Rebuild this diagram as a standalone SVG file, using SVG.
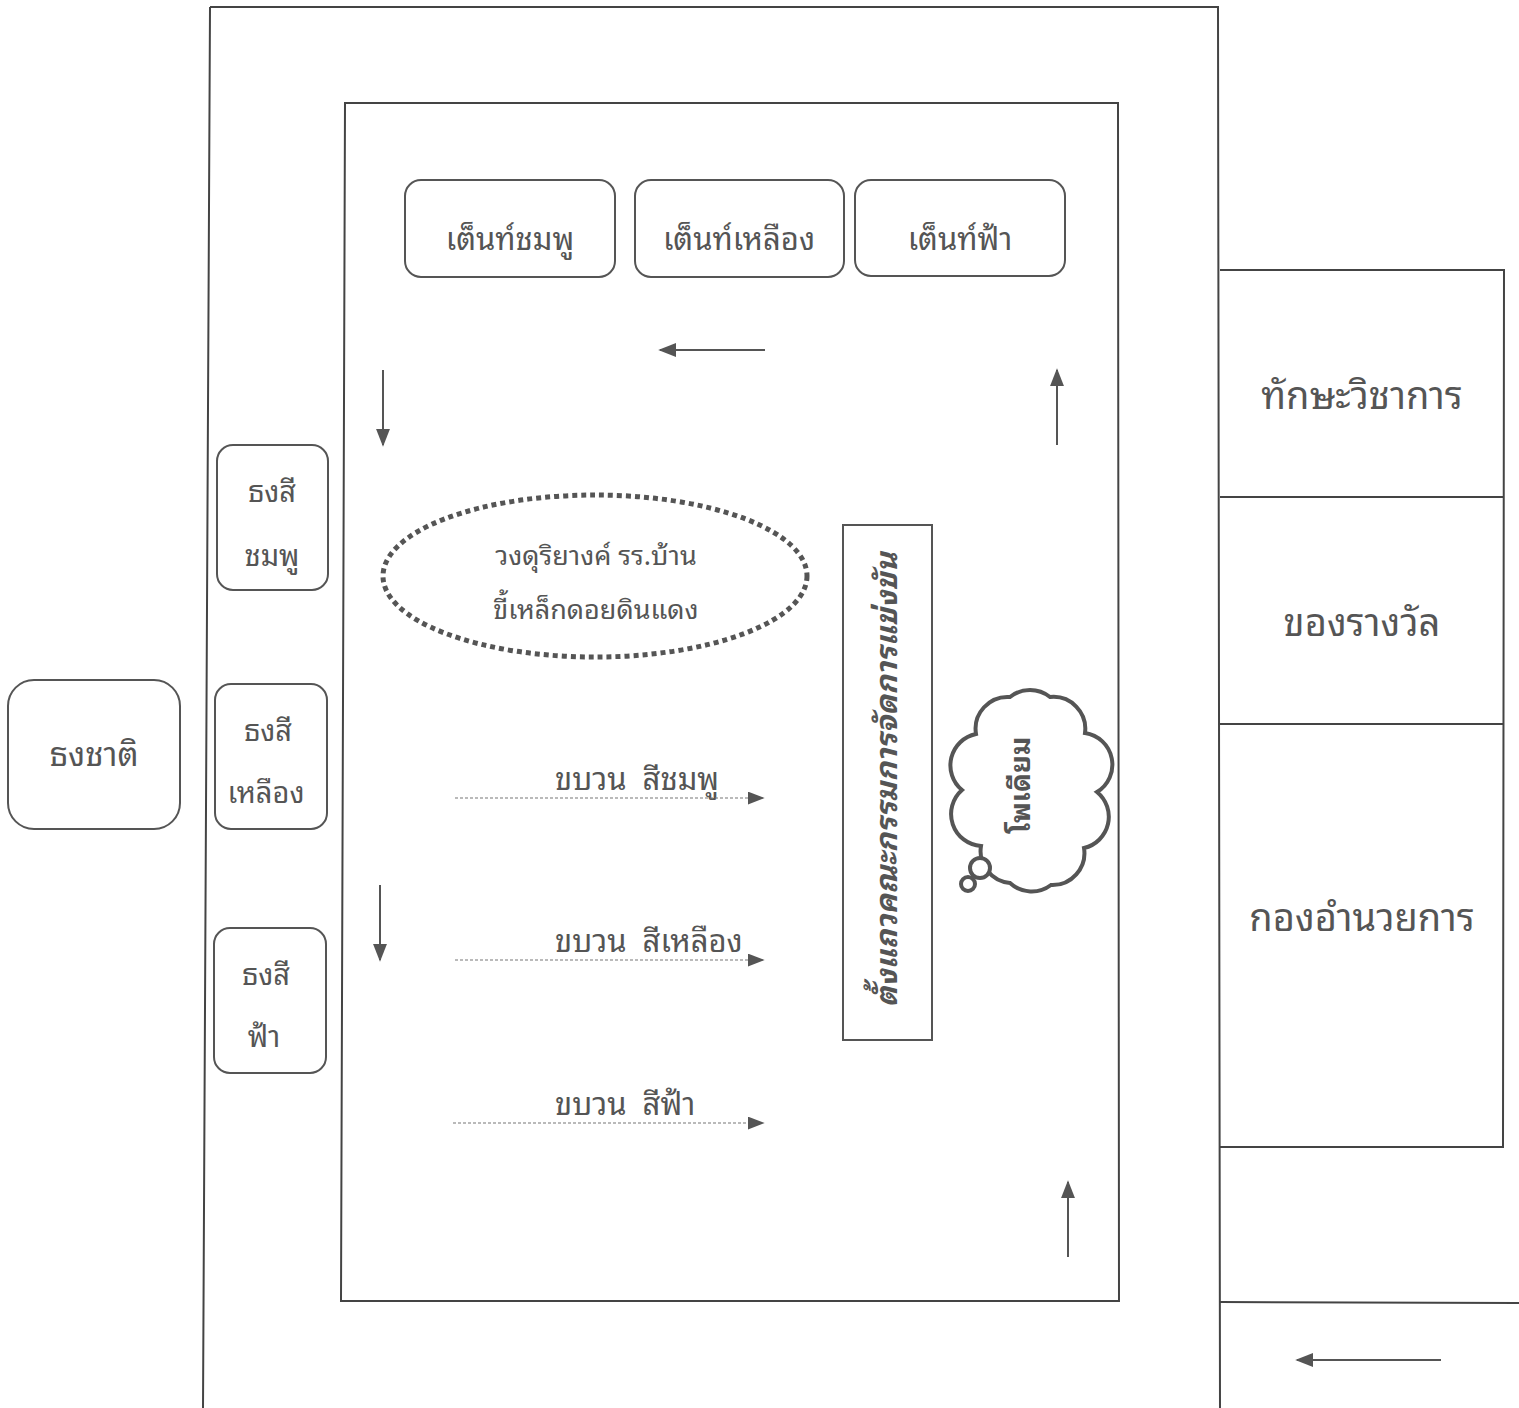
<svg xmlns="http://www.w3.org/2000/svg" width="1519" height="1408" viewBox="0 0 1519 1408">
<style>
.frame{fill:none;stroke:#444;stroke-width:2}
.box{fill:#fff;stroke:#555;stroke-width:2}
.t{font-family:"Noto Sans Thai Looped","Loma","Garuda","Tlwg Typo","Noto Sans Thai","Noto Sans","DejaVu Sans",sans-serif;fill:#555;text-anchor:middle}
.ts{text-anchor:start}
.arr{stroke:#555;stroke-width:2;fill:none}
.dash{stroke:#777;stroke-width:1.2;stroke-dasharray:3 2;fill:none}
</style>
<defs>
<marker id="ahs" viewBox="0 0 10 10" refX="9" refY="5" markerWidth="18" markerHeight="14" markerUnits="userSpaceOnUse" orient="auto" preserveAspectRatio="none">
<path d="M0,0 L10,5 L0,10 Z" fill="#555"/>
</marker>
<marker id="ahd" viewBox="0 0 10 10" refX="9" refY="5" markerWidth="17" markerHeight="13" markerUnits="userSpaceOnUse" orient="auto" preserveAspectRatio="none">
<path d="M0,0 L10,5 L0,10 Z" fill="#555"/>
</marker>
</defs>
<rect width="1519" height="1408" fill="#fff"/>
<g id="outer-frame">
<path class="frame" d="M210,7 L1218,7 L1220,1408 M210,7 L203,1408"/>
</g>
<g id="inner-frame">
<path class="frame" d="M345,103 L1118,103 L1119,1301 L341,1301 Z"/>
</g>
<g id="right-column">
<path class="frame" d="M1220,270 L1504,270 L1503,1147 L1220,1147 M1220,497 L1504,497 M1220,724 L1504,724 M1220,1302 L1519,1303"/>
<text class="t" x="1362" y="409" font-size="38">ทักษะวิชาการ</text>
<text class="t" x="1362" y="636" font-size="38">ของรางวัล</text>
<text class="t" x="1362" y="931" font-size="38">กองอำนวยการ</text>
</g>
<g id="tent-pink">
<rect class="box" x="405" y="180" width="210" height="97" rx="16"/>
<text class="t" x="510" y="250" font-size="31">เต็นท์ชมพู</text>
</g>
<g id="tent-yellow">
<rect class="box" x="635" y="180" width="209" height="97" rx="16"/>
<text class="t" x="739" y="250" font-size="31">เต็นท์เหลือง</text>
</g>
<g id="tent-blue">
<rect class="box" x="855" y="180" width="210" height="96" rx="16"/>
<text class="t" x="960" y="250" font-size="31">เต็นท์ฟ้า</text>
</g>
<g id="flag-pink">
<rect class="box" x="217" y="445" width="111" height="145" rx="16"/>
<text class="t" x="272" y="502" font-size="29">ธงสี</text>
<text class="t" x="272" y="566" font-size="29">ชมพู</text>
</g>
<g id="flag-yellow">
<rect class="box" x="215" y="684" width="112" height="145" rx="16"/>
<text class="t" x="268" y="741" font-size="29">ธงสี</text>
<text class="t" x="266" y="803" font-size="29">เหลือง</text>
</g>
<g id="flag-blue">
<rect class="box" x="214" y="928" width="112" height="145" rx="16"/>
<text class="t" x="266" y="985" font-size="29">ธงสี</text>
<text class="t" x="264" y="1047" font-size="29">ฟ้า</text>
</g>
<g id="national-flag">
<rect class="box" x="8" y="680" width="172" height="149" rx="26"/>
<text class="t" x="94" y="766" font-size="33">ธงชาติ</text>
</g>
<g id="band">
<ellipse cx="595" cy="576" rx="212" ry="81" fill="none" stroke="#555" stroke-width="5" stroke-dasharray="5 4"/>
<text class="t" x="596" y="565" font-size="27">วงดุริยางค์ รร.บ้าน</text>
<text class="t" x="596" y="619" font-size="27">ขี้เหล็กดอยดินแดง</text>
</g>
<g id="committee">
<rect class="box" x="843" y="525" width="89" height="515"/>
<text class="t" transform="translate(897,780) rotate(-90)" font-size="30" font-weight="bold" font-style="italic" textLength="455" lengthAdjust="spacingAndGlyphs">ตั้งแถวคณะกรรมการจัดการแข่งขัน</text>
</g>
<g id="podium">
<path fill="#fff" stroke="#555" stroke-width="4" d="M1097,792 A32,32 0 0 1 1084,848 A32,32 0 0 1 1051,885 A32,32 0 0 1 1010,883 A32,32 0 0 1 981,846 A32,32 0 0 1 962,790 A32,32 0 0 1 976,734 A32,32 0 0 1 1010,697 A32,32 0 0 1 1050,697 A32,32 0 0 1 1085,733 A32,32 0 0 1 1097,792 Z"/>
<circle cx="980" cy="868" r="10" fill="#fff" stroke="#555" stroke-width="4"/>
<circle cx="968" cy="884" r="7" fill="#fff" stroke="#555" stroke-width="4"/>
<text class="t" transform="translate(1030,785) rotate(-90)" font-size="28" font-weight="bold">โพเดียม</text>
</g>
<g id="parade-labels">
<text class="t ts" x="555" y="790" font-size="31" xml:space="preserve">ขบวน  สีชมพู</text>
<text class="t ts" x="555" y="952" font-size="31" xml:space="preserve">ขบวน  สีเหลือง</text>
<text class="t ts" x="555" y="1115" font-size="31" xml:space="preserve">ขบวน  สีฟ้า</text>
</g>
<g id="connectors">
<line class="arr" x1="765" y1="350" x2="660" y2="350" marker-end="url(#ahs)"/>
<line class="arr" x1="383" y1="370" x2="383" y2="445" marker-end="url(#ahs)"/>
<line class="arr" x1="1057" y1="445" x2="1057" y2="370" marker-end="url(#ahs)"/>
<line class="arr" x1="380" y1="885" x2="380" y2="960" marker-end="url(#ahs)"/>
<line class="arr" x1="1068" y1="1257" x2="1068" y2="1182" marker-end="url(#ahs)"/>
<line class="arr" x1="1441" y1="1360" x2="1297" y2="1360" marker-end="url(#ahs)"/>
<line class="dash" x1="455" y1="798" x2="763" y2="798" marker-end="url(#ahd)"/>
<line class="dash" x1="455" y1="960" x2="763" y2="960" marker-end="url(#ahd)"/>
<line class="dash" x1="453" y1="1123" x2="763" y2="1123" marker-end="url(#ahd)"/>
</g>
</svg>
